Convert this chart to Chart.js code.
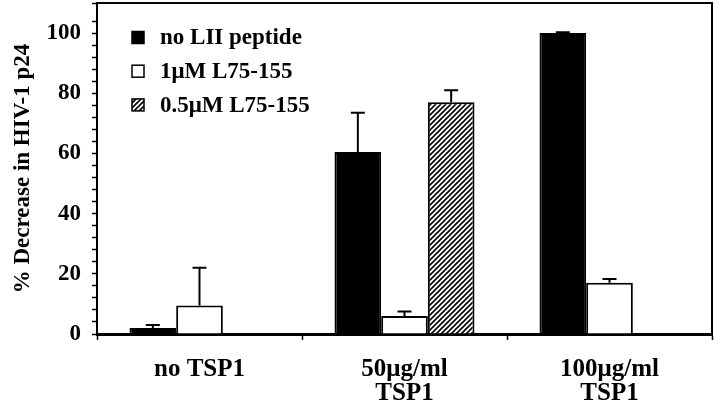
<!DOCTYPE html>
<html>
<head>
<meta charset="utf-8">
<script src="https://cdn.jsdelivr.net/npm/chart.js@4"></script>
<style>
  html, body { margin: 0; padding: 0; background: #fff; }
  #wrap { width: 720px; height: 410px; }
</style>
</head>
<body>
<div id="wrap"><canvas id="chart" width="720" height="410"></canvas></div>
<script>
// values
const categories = [['no TSP1'], ['50\u03bcg/ml', 'TSP1'], ['100\u03bcg/ml', 'TSP1']];
const seriesLabels = ['no LII peptide', '1\u03bcM L75-155', '0.5\u03bcM L75-155'];
const noPeptide = [2, 60.5, 100];
const noPeptideErr = [1, 13, 0.3];
const oneMicro = [9.5, 6, 17];
const oneMicroErr = [12.5, 1.5, 1.3];
const halfMicro = [null, 77, null];
const halfMicroErr = [null, 4, null];
const yMax = 110;

const FONT = '"Liberation Serif", "Times New Roman", serif';

// diagonal hatch for the 0.5uM bars
function makeHatch() {
    const c = document.createElement('canvas');
    c.width = 5; c.height = 5;
    const g = c.getContext('2d');
    g.fillStyle = '#fff';
    g.fillRect(0, 0, 5, 5);
    g.strokeStyle = '#000';
    g.lineWidth = 1.6;
    g.beginPath();
    g.moveTo(-1, 6); g.lineTo(6, -1);
    g.moveTo(-1, 1); g.lineTo(1, -1);
    g.moveTo(4, 6); g.lineTo(6, 4);
    g.stroke();
    return g.createPattern(c, 'repeat');
}
const hatch = makeHatch();

const errors = [noPeptideErr, oneMicroErr, halfMicroErr];

// upward error bars with caps
const errorBars = {
    id: 'errorBars',
    afterDatasetsDraw(chart) {
        const ctx = chart.ctx;
        const y = chart.scales.y;
        ctx.save();
        ctx.strokeStyle = '#000';
        ctx.lineWidth = 2;
        chart.data.datasets.forEach((ds, i) => {
            const meta = chart.getDatasetMeta(i);
            ds.data.forEach((v, j) => {
                const e = errors[i][j];
                if (v == null || e == null) return;
                const bar = meta.data[j];
                const top = y.getPixelForValue(v + e);
                const base = y.getPixelForValue(v);
                ctx.beginPath();
                ctx.moveTo(bar.x, base);
                ctx.lineTo(bar.x, top);
                ctx.moveTo(bar.x - 7, top);
                ctx.lineTo(bar.x + 7, top);
                ctx.stroke();
            });
        });
        ctx.restore();
    }
};

// top and right edges of the box
const frame = {
    id: 'frame',
    afterDraw(chart) {
        const a = chart.chartArea;
        const ctx = chart.ctx;
        ctx.save();
        ctx.strokeStyle = '#000';
        ctx.lineWidth = 2;
        ctx.beginPath();
        ctx.moveTo(a.left, a.top);
        ctx.lineTo(a.right, a.top);
        ctx.lineTo(a.right, a.bottom);
        ctx.stroke();
        ctx.restore();
    }
};

// legend drawn inside the plot, top-left
const innerLegend = {
    id: 'innerLegend',
    afterDraw(chart) {
        const ctx = chart.ctx;
        const a = chart.chartArea;
        ctx.save();
        ctx.font = 'bold 23px ' + FONT;
        ctx.textBaseline = 'middle';
        chart.data.datasets.forEach((ds, i) => {
            const cy = a.top + 34.5 + i * 33.7;
            const bx = a.left + 35;
            ctx.fillStyle = ds.backgroundColor;
            ctx.fillRect(bx, cy - 6, 12, 12);
            ctx.strokeStyle = '#000';
            ctx.lineWidth = 1.5;
            ctx.strokeRect(bx, cy - 6, 12, 12);
            ctx.fillStyle = '#000';
            ctx.fillText(ds.label, a.left + 63, cy + 1);
        });
        ctx.restore();
    }
};

new Chart(document.getElementById('chart'), {
    type: 'bar',
    data: {
        labels: categories,
        datasets: [
            { label: seriesLabels[0], data: noPeptide, backgroundColor: '#000', borderColor: '#000', borderWidth: 2 },
            { label: seriesLabels[1], data: oneMicro, backgroundColor: '#fff', borderColor: '#000', borderWidth: 2 },
            { label: seriesLabels[2], data: halfMicro, backgroundColor: hatch, borderColor: '#000', borderWidth: 2 }
        ]
    },
    options: {
        responsive: false,
        animation: false,
        layout: { padding: { top: 3, right: 8, left: 0, bottom: 0 } },
        datasets: { bar: { barPercentage: 1, categoryPercentage: 0.683, borderSkipped: 'bottom' } },
        plugins: { legend: { display: false }, tooltip: { enabled: false } },
        scales: {
            x: {
                afterFit(s) { s.height = 76; s.paddingLeft = 0; s.paddingRight = 0; },
                grid: { drawOnChartArea: false, color: '#000', tickLength: 6, tickWidth: 1.5 },
                border: { color: '#000', width: 3 },
                ticks: {
                    color: '#000',
                    padding: 18,
                    maxRotation: 0,
                    font: { family: FONT, size: 25, weight: 'bold', lineHeight: 0.96 }
                }
            },
            y: {
                min: 0,
                max: yMax,
                afterFit(s) { s.width = 97; s.paddingTop = 0; s.paddingBottom = 0; },
                grid: { drawOnChartArea: false, color: '#000', tickLength: 5, tickWidth: 1.5 },
                border: { color: '#000', width: 2 },
                ticks: {
                    stepSize: 4,
                    autoSkip: false,
                    color: '#000',
                    padding: 11,
                    font: { family: FONT, size: 23, weight: 'bold' },
                    callback: v => (v % 20 === 0 ? v : '')
                },
                title: {
                    display: true,
                    text: '% Decrease in HIV-1 p24',
                    color: '#000',
                    padding: { top: 9, bottom: 0 },
                    font: { family: FONT, size: 23, weight: 'bold' }
                }
            }
        }
    },
    plugins: [errorBars, frame, innerLegend]
});
</script>
</body>
</html>
